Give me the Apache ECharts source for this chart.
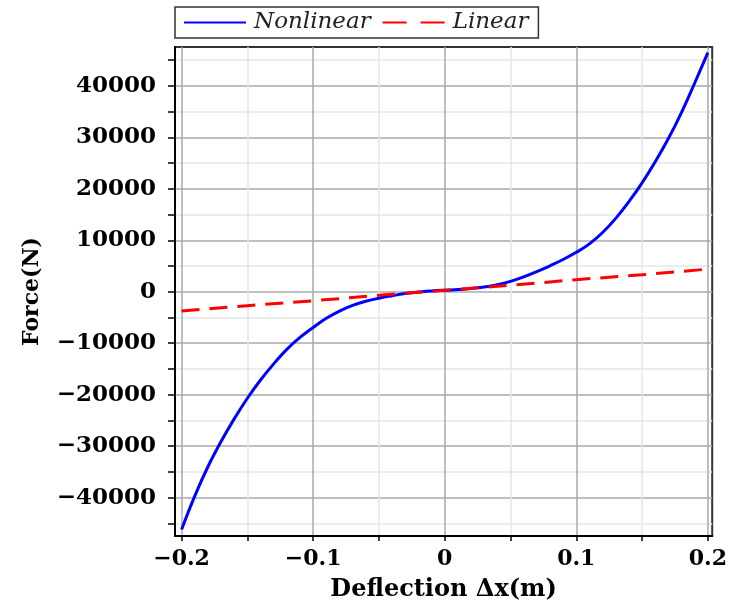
<!DOCTYPE html>
<html>
<head>
<meta charset="utf-8">
<script src="https://cdn.jsdelivr.net/npm/echarts@6/dist/echarts.min.js"></script>
<style>
  html, body { margin: 0; padding: 0; background: #fff; }
  #chart { width: 730px; height: 608px; }
</style>
</head>
<body>
<div id="chart"></div>
<script>
// Deflection (m) sample positions
const deflection = [
  -0.20, -0.19, -0.18, -0.17, -0.16, -0.15, -0.14, -0.13, -0.12, -0.11,
  -0.10, -0.09, -0.08, -0.07, -0.06, -0.05, -0.04, -0.03, -0.02, -0.01,
   0.00,  0.01,  0.02,  0.03,  0.04,  0.05,  0.06,  0.07,  0.08,  0.09,
   0.10,  0.11,  0.12,  0.13,  0.14,  0.15,  0.16,  0.17,  0.18,  0.19, 0.20
];
// Nonlinear spring force (N)
const nonlinearForce = [
  -46200, -39700, -34000, -29100, -24700, -20690, -17150, -14010, -11190, -8880,
   -6950,  -5150,  -3750,  -2650,  -1850,  -1250,   -770,   -350,    -50,    150,
     300,    430,    610,    910,   1360,   2010,   2880,   3910,   5040,   6260,
    7660,   9310,  11510,  14260,  17510,  21160,  25260,  29760,  34860,  40560, 46460
];
// Linear spring force (N)
const linearX = [-0.20, -0.15, -0.10, -0.05, 0.00, 0.05, 0.10, 0.15, 0.20];
const linearForce = [-3750, -2700, -1750, -700, 300, 1250, 2350, 3300, 4400];

// Axis ticks and labels
const xTicks = [-0.2, -0.15, -0.1, -0.05, 0, 0.05, 0.1, 0.15, 0.2];
const xLabels = [-0.2, -0.1, 0, 0.1, 0.2];
const yTicks = [-45000, -40000, -35000, -30000, -25000, -20000, -15000, -10000, -5000, 0,
                5000, 10000, 15000, 20000, 25000, 30000, 35000, 40000, 45000];
const yLabels = [-40000, -30000, -20000, -10000, 0, 10000, 20000, 30000, 40000];

const zip = (xs, ys) => xs.map((x, i) => [x, ys[i]]);
const fmt = v => (v < 0 ? '\u2212' + String(-v) : String(v));
const serif = 'DejaVu Serif';

const chart = echarts.init(document.getElementById('chart'));
chart.setOption({
  animation: false,
  backgroundColor: '#fff',
  grid: {
    left: 175, right: 15, top: 47, bottom: 72,
    show: true, borderColor: '#333', borderWidth: 2
  },
  legend: {
    left: 175, top: 7,
    padding: [4, 10, 4, 8],
    borderColor: '#333', borderWidth: 1.5,
    itemWidth: 62, itemHeight: 20, itemGap: 11,
    itemStyle: { opacity: 0, borderWidth: 0 },
    textStyle: { fontFamily: serif, fontStyle: 'italic', fontSize: 23, color: '#222', padding: [0, 0, 0, 3] },
    data: [
      { name: 'Nonlinear' },
      { name: 'Linear', lineStyle: { type: [24, 14] } }
    ]
  },
  xAxis: {
    type: 'value',
    min: -0.205, max: 0.2033,
    name: 'Deflection \u0394x(m)',
    nameLocation: 'middle', nameGap: 42,
    nameTextStyle: { fontFamily: serif, fontWeight: 'bold', fontSize: 24, color: '#000' },
    axisLine: { onZero: false, lineStyle: { color: '#000', width: 2 } },
    axisTick: { show: true, length: 5, inside: false, customValues: xTicks, lineStyle: { color: '#000', width: 1.5 } },
    axisLabel: { customValues: xLabels, formatter: fmt, margin: 12, fontFamily: serif, fontWeight: 'bold', fontSize: 22, color: '#000' },
    splitLine: { show: true, lineStyle: { color: ['#aaaaaa', '#e6e6e6'], width: 1.5 } }
  },
  yAxis: {
    type: 'value',
    min: -47450, max: 47550,
    name: 'Force(N)',
    nameLocation: 'middle', nameGap: 132, nameRotate: 90,
    nameTextStyle: { fontFamily: serif, fontWeight: 'bold', fontSize: 22, color: '#000' },
    axisLine: { onZero: false, lineStyle: { color: '#000', width: 2 } },
    axisTick: { show: true, length: 7, inside: false, customValues: yTicks, lineStyle: { color: '#000', width: 1.5 } },
    axisLabel: { customValues: yLabels, formatter: fmt, margin: 19, fontFamily: serif, fontWeight: 'bold', fontSize: 23, color: '#000' },
    splitLine: { show: true, lineStyle: { color: ['#e6e6e6', '#aaaaaa'], width: 1.5 } }
  },
  series: [
    {
      name: 'Nonlinear', type: 'line',
      data: zip(deflection, nonlinearForce),
      smooth: 0.4, showSymbol: false, symbol: 'none',
      lineStyle: { color: '#0000ff', width: 3 },
      itemStyle: { color: '#0000ff' },
      z: 3
    },
    {
      name: 'Linear', type: 'line',
      data: zip(linearX, linearForce),
      showSymbol: false, symbol: 'none',
      lineStyle: { color: '#ff0000', width: 3, type: [18, 10] },
      itemStyle: { color: '#ff0000' },
      z: 4
    }
  ]
});
</script>
</body>
</html>
